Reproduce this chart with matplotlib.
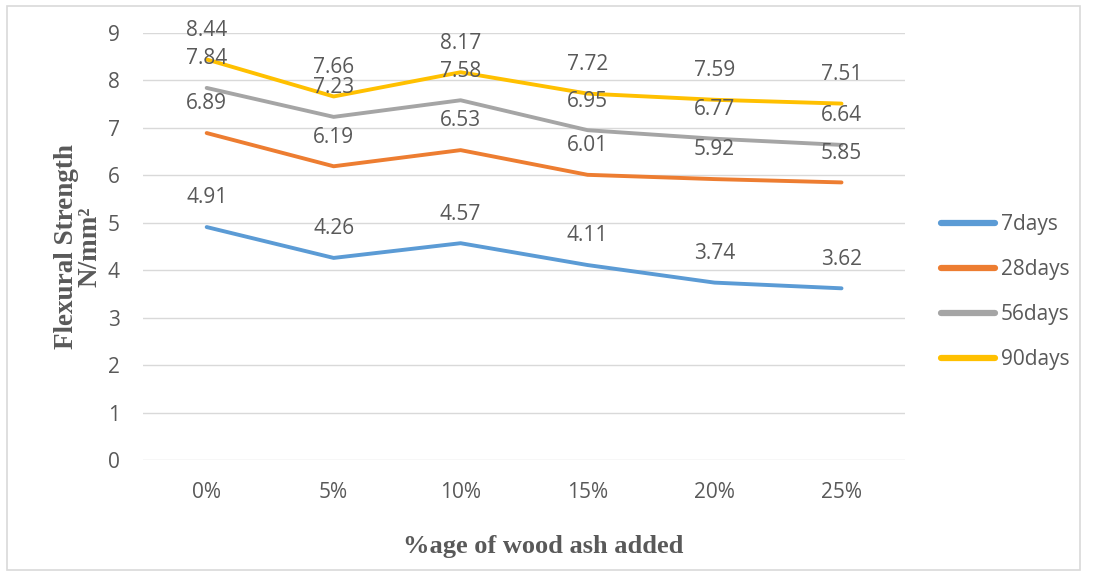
import matplotlib
matplotlib.use("Agg")
import matplotlib.pyplot as plt
from matplotlib.patches import Rectangle

categories = ["0%", "5%", "10%", "15%", "20%", "25%"]
series_names = ["7days", "28days", "56days", "90days"]
days7 = [4.91, 4.26, 4.57, 4.11, 3.74, 3.62]
days28 = [6.89, 6.19, 6.53, 6.01, 5.92, 5.85]
days56 = [7.84, 7.23, 7.58, 6.95, 6.77, 6.64]
days90 = [8.44, 7.66, 8.17, 7.72, 7.59, 7.51]
colors = ["#5B9BD5", "#ED7D31", "#A5A5A5", "#FFC000"]

text_color = "#595959"
label_font = "Open Sans"
fs = 15

fig = plt.figure(figsize=(10.93, 5.76), dpi=100)
fig.patches.append(Rectangle((0.006, 0.01), 0.982, 0.98, transform=fig.transFigure,
                             fill=False, edgecolor="#D9D9D9", linewidth=1.2))
ax = fig.add_axes([0.131, 0.201, 0.697, 0.742])

x = list(range(len(categories)))
for name, vals, c in zip(series_names, [days7, days28, days56, days90], colors):
    ax.plot(x, vals, color=c, linewidth=2.8, label=name, solid_capstyle="round", zorder=3)
    for xi, v in zip(x, vals):
        ax.annotate(f"{v:.2f}", (xi, v), xytext=(0, 21), textcoords="offset points",
                    ha="center", va="center", fontsize=fs, color=text_color,
                    family=label_font, zorder=4)

ax.set_xlim(-0.5, len(categories) - 0.5)
ax.set_ylim(0, 9)
ax.set_yticks(range(0, 10))
ax.set_xticks(x)
ax.set_xticklabels(categories)
ax.grid(axis="y", color="#D9D9D9", linewidth=1)
ax.set_axisbelow(True)
for s in ax.spines.values():
    s.set_visible(False)
ax.tick_params(length=0, labelsize=fs, labelcolor=text_color)
for lab in ax.get_xticklabels() + ax.get_yticklabels():
    lab.set_family(label_font)
ax.tick_params(axis="y", pad=17)
ax.tick_params(axis="x", pad=16)

ax.set_xlabel("%age of wood ash added", family="Liberation Serif", fontweight="bold",
              fontsize=19, color=text_color)
ax.xaxis.set_label_coords(0.525, -0.175)
ax.set_ylabel("Flexural Strength\nN/mm²", family="Liberation Serif", fontweight="bold",
              fontsize=19.5, color=text_color, linespacing=0.95)
ax.yaxis.set_label_coords(-0.053, 0.5)

leg = fig.legend(loc="center left", bbox_to_anchor=(0.844, 0.493), frameon=False,
                 labelcolor=text_color, handlelength=2.6,
                 labelspacing=1.15, handletextpad=0.25, prop={"family": label_font, "size": fs})
for line in leg.get_lines():
    line.set_linewidth(4.5)

fig.savefig("out.png", dpi=100)
